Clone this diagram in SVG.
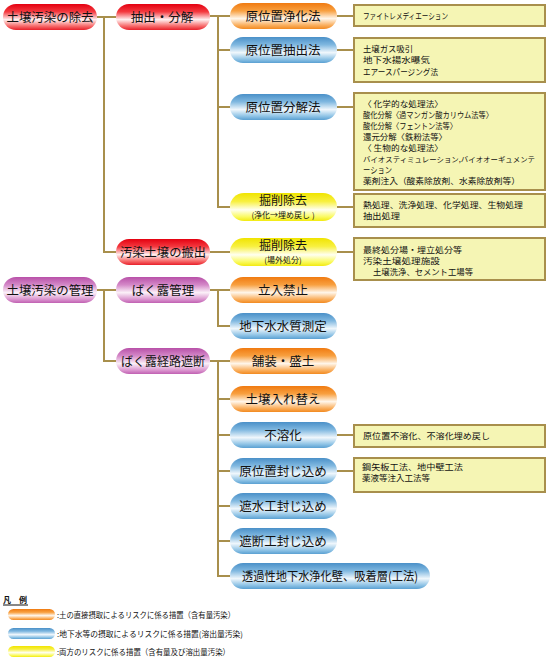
<svg xmlns="http://www.w3.org/2000/svg" width="550" height="662" viewBox="0 0 550 662">
<defs>
<linearGradient id="gR" x1="0" y1="0" x2="0" y2="1"><stop offset="0" stop-color="#e40010"/><stop offset="0.3" stop-color="#f43a40"/><stop offset="0.6" stop-color="#fff0f0"/><stop offset="0.85" stop-color="#f76a6a"/><stop offset="1" stop-color="#e8202a"/></linearGradient>
<linearGradient id="gO" x1="0" y1="0" x2="0" y2="1"><stop offset="0" stop-color="#f07a10"/><stop offset="0.3" stop-color="#f8a040"/><stop offset="0.6" stop-color="#fff6ea"/><stop offset="0.85" stop-color="#fab060"/><stop offset="1" stop-color="#f28a20"/></linearGradient>
<linearGradient id="gB" x1="0" y1="0" x2="0" y2="1"><stop offset="0" stop-color="#4a90c8"/><stop offset="0.3" stop-color="#80b8e0"/><stop offset="0.6" stop-color="#f0f7fc"/><stop offset="0.85" stop-color="#90c4e6"/><stop offset="1" stop-color="#5aa0d2"/></linearGradient>
<linearGradient id="gY" x1="0" y1="0" x2="0" y2="1"><stop offset="0" stop-color="#f0e400"/><stop offset="0.3" stop-color="#f8f040"/><stop offset="0.6" stop-color="#fffff0"/><stop offset="0.85" stop-color="#fafa60"/><stop offset="1" stop-color="#f2ea10"/></linearGradient>
<linearGradient id="gP" x1="0" y1="0" x2="0" y2="1"><stop offset="0" stop-color="#b850a8"/><stop offset="0.3" stop-color="#d488c8"/><stop offset="0.6" stop-color="#fbf0f8"/><stop offset="0.85" stop-color="#dc98d0"/><stop offset="1" stop-color="#c060b2"/></linearGradient>
</defs>
<style>
text{font-family:"Noto Sans CJK JP","Noto Sans CJK SC",sans-serif;fill:#111}
.p{font-size:12.5px;text-anchor:middle}
.p2{font-size:12px;text-anchor:middle}
.s{font-size:8px;text-anchor:middle}
.b{font-size:8.5px}
.lg{font-size:8px}
.box{fill:#f5f5b4;stroke:#a88f4c;stroke-width:2}
.c{fill:none;stroke:#a88f4c;stroke-width:2}
</style>
<g id="connectors">
<path class="c" d="M97 17H116M104 17V252H116"/>
<path class="c" d="M97 290H116M104 290V361H116"/>
<path class="c" d="M210 16H230M218 16V207H230M218 50H230M218 107H230"/>
<path class="c" d="M210 252H230"/>
<path class="c" d="M210 290H230M218 290V326H230"/>
<path class="c" d="M210 361H230M218 361V576H230M218 399H230M218 435H230M218 471H230M218 506H230M218 541H230"/>
<path class="c" d="M337 16H354M337 50H354M337 107H354M337 207H354M337 252H354M337 435H354M337 471H354"/>
</g>
<g id="n-jokyo"><rect x="3" y="4" width="94" height="26" rx="13" fill="url(#gR)"/><text class="p" x="50" y="22" textLength="87" lengthAdjust="spacingAndGlyphs">土壌汚染の除去</text></g>
<g id="n-kanri"><rect x="3" y="277" width="94" height="26" rx="13" fill="url(#gP)"/><text class="p" x="50" y="295" textLength="87" lengthAdjust="spacingAndGlyphs">土壌汚染の管理</text></g>
<g id="n-chushutsu"><rect x="116" y="4" width="94" height="26" rx="13" fill="url(#gR)"/><text class="p" x="162" y="22">抽出・分解</text></g>
<g id="n-hanshutsu"><rect x="116" y="239" width="94" height="26" rx="13" fill="url(#gR)"/><text class="p" x="163" y="257" textLength="86" lengthAdjust="spacingAndGlyphs">汚染土壌の搬出</text></g>
<g id="n-bakuro"><rect x="116" y="277" width="94" height="26" rx="13" fill="url(#gP)"/><text class="p" x="163" y="295">ばく露管理</text></g>
<g id="n-keiro"><rect x="116" y="348" width="94" height="26" rx="13" fill="url(#gP)"/><text class="p" x="163" y="366" textLength="84" lengthAdjust="spacingAndGlyphs">ばく露経路遮断</text></g>
<g id="n-jouka"><rect x="230" y="3" width="107" height="26" rx="13" fill="url(#gO)"/><text class="p" x="283" y="21">原位置浄化法</text></g>
<g id="n-chushutsuhou"><rect x="230" y="37" width="107" height="26" rx="13" fill="url(#gB)"/><text class="p" x="283" y="55">原位置抽出法</text></g>
<g id="n-bunkai"><rect x="230" y="94" width="107" height="26" rx="13" fill="url(#gB)"/><text class="p" x="283" y="112">原位置分解法</text></g>
<g id="n-kussaku1"><rect x="230" y="193" width="107" height="28" rx="14" fill="url(#gY)"/><text class="p2" x="283" y="205">掘削除去</text><text class="s" x="283" y="218">(浄化→埋め戻し )</text></g>
<g id="n-kussaku2"><rect x="230" y="238" width="107" height="28" rx="14" fill="url(#gY)"/><text class="p2" x="283" y="250">掘削除去</text><text class="s" x="283" y="263">(場外処分)</text></g>
<g id="n-tachiiri"><rect x="230" y="277" width="107" height="26" rx="13" fill="url(#gO)"/><text class="p" x="283" y="295">立入禁止</text></g>
<g id="n-suishitsu"><rect x="230" y="313" width="107" height="26" rx="13" fill="url(#gB)"/><text class="p" x="283" y="331">地下水水質測定</text></g>
<g id="n-hosou"><rect x="230" y="348" width="107" height="26" rx="13" fill="url(#gO)"/><text class="p" x="283" y="366">舗装・盛土</text></g>
<g id="n-irekae"><rect x="230" y="386" width="107" height="26" rx="13" fill="url(#gO)"/><text class="p" x="283" y="404">土壌入れ替え</text></g>
<g id="n-fuyouka"><rect x="230" y="422" width="107" height="26" rx="13" fill="url(#gB)"/><text class="p" x="283" y="440">不溶化</text></g>
<g id="n-fuujikome"><rect x="230" y="458" width="107" height="26" rx="13" fill="url(#gB)"/><text class="p" x="283" y="476">原位置封じ込め</text></g>
<g id="n-shasui"><rect x="230" y="493" width="107" height="26" rx="13" fill="url(#gB)"/><text class="p" x="283" y="511">遮水工封じ込め</text></g>
<g id="n-shadan"><rect x="230" y="528" width="107" height="26" rx="13" fill="url(#gB)"/><text class="p" x="283" y="546">遮断工封じ込め</text></g>
<g id="n-touka"><rect x="230" y="563" width="200" height="26" rx="13" fill="url(#gB)"/><text class="p" x="330" y="581" textLength="176" lengthAdjust="spacingAndGlyphs">透過性地下水浄化壁、吸着層(工法)</text></g>
<g id="box-jouka"><rect class="box" x="354" y="5" width="191" height="21"/><text class="b" x="363" y="19" textLength="85" lengthAdjust="spacingAndGlyphs">ファイトレメディエーション</text></g>
<g id="box-chushutsu"><rect class="box" x="354" y="38" width="191" height="44"/><text class="b" x="363" y="52" textLength="50" lengthAdjust="spacingAndGlyphs">土壌ガス吸引</text><text class="b" x="363" y="63" textLength="67" lengthAdjust="spacingAndGlyphs">地下水揚水曝気</text><text class="b" x="363" y="75" textLength="75" lengthAdjust="spacingAndGlyphs">エアースパージング法</text></g>
<g id="box-bunkai"><rect class="box" x="354" y="93" width="191" height="97"/>
<text class="b" x="363" y="107" textLength="80" lengthAdjust="spacingAndGlyphs">〈 化学的な処理法〉</text>
<text class="b" x="363" y="118" textLength="130" lengthAdjust="spacingAndGlyphs">酸化分解〈過マンガン酸カリウム法等〉</text>
<text class="b" x="363" y="129" textLength="94" lengthAdjust="spacingAndGlyphs">酸化分解〈フェントン法等〉</text>
<text class="b" x="363" y="140" textLength="84" lengthAdjust="spacingAndGlyphs">還元分解〈鉄粉法等〉</text>
<text class="b" x="363" y="151" textLength="80" lengthAdjust="spacingAndGlyphs">〈 生物的な処理法〉</text>
<text class="b" x="363" y="162" font-size="7.3" textLength="172" lengthAdjust="spacingAndGlyphs" style="font-size:7.3px">バイオスティミュレーション,バイオオーギュメンテ</text>
<text class="b" x="363" y="173" textLength="29" lengthAdjust="spacingAndGlyphs">ーション</text>
<text class="b" x="363" y="184" textLength="157" lengthAdjust="spacingAndGlyphs">薬剤注入（酸素除放剤、水素除放剤等）</text></g>
<g id="box-kussaku1"><rect class="box" x="354" y="194" width="191" height="33"/><text class="b" x="363" y="208" textLength="160" lengthAdjust="spacingAndGlyphs">熱処理、洗浄処理、化学処理、生物処理</text><text class="b" x="363" y="219" textLength="37" lengthAdjust="spacingAndGlyphs">抽出処理</text></g>
<g id="box-kussaku2"><rect class="box" x="354" y="238" width="191" height="42"/><text class="b" x="363" y="253" textLength="99" lengthAdjust="spacingAndGlyphs">最終処分場・埋立処分等</text><text class="b" x="363" y="264" textLength="77" lengthAdjust="spacingAndGlyphs">汚染土壌処理施設</text><text class="b" x="373" y="275" textLength="100" lengthAdjust="spacingAndGlyphs">土壌洗浄、セメント工場等</text></g>
<g id="box-fuyouka"><rect class="box" x="354" y="425" width="191" height="22"/><text class="b" x="363" y="439" textLength="127" lengthAdjust="spacingAndGlyphs">原位置不溶化、不溶化埋め戻し</text></g>
<g id="box-fuujikome"><rect class="box" x="354" y="458" width="191" height="34"/><text class="b" x="362" y="470" textLength="101" lengthAdjust="spacingAndGlyphs">鋼矢板工法、地中壁工法</text><text class="b" x="362" y="481" textLength="68" lengthAdjust="spacingAndGlyphs">薬液等注入工法等</text></g>
<g id="legend">
<text class="lg" x="3" y="603" font-weight="bold">凡　例</text>
<line x1="3" y1="605" x2="28" y2="605" stroke="#111" stroke-width="1"/>
<rect x="8" y="609" width="47" height="11" rx="5.5" fill="url(#gO)"/>
<text class="lg" x="57" y="618" textLength="178" lengthAdjust="spacingAndGlyphs">:土の直接摂取によるリスクに係る措置（含有量汚染）</text>
<rect x="8" y="628" width="47" height="11" rx="5.5" fill="url(#gB)"/>
<text class="lg" x="57" y="637" textLength="186" lengthAdjust="spacingAndGlyphs">:地下水等の摂取によるリスクに係る措置(溶出量汚染)</text>
<rect x="8" y="646" width="47" height="11" rx="5.5" fill="url(#gY)"/>
<text class="lg" x="57" y="655" textLength="173" lengthAdjust="spacingAndGlyphs">:両方のリスクに係る措置（含有量及び溶出量汚染）</text>
</g>
</svg>
